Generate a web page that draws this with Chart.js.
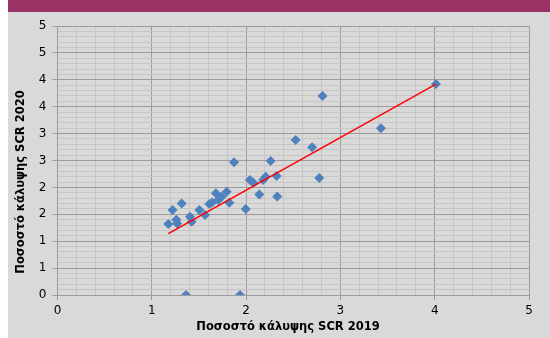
<!DOCTYPE html>
<html>
<head>
<meta charset="utf-8">
<script src="https://cdn.jsdelivr.net/npm/chart.js@4/dist/chart.umd.min.js"></script>
<style>
  html, body { margin: 0; padding: 0; background: #ffffff; }
  #c { display: block; }
</style>
</head>
<body>
<canvas id="c" width="550" height="338"></canvas>
<script>
// ---- Data ----
const scr2019 = [1.175, 1.22, 1.26, 1.27, 1.317, 1.405, 1.423, 1.504, 1.564, 1.61, 1.64, 1.68, 1.705, 1.741, 1.794, 1.822, 1.872, 1.996, 2.041, 2.077, 2.14, 2.18, 2.208, 2.26, 2.324, 2.33, 2.526, 2.70, 2.776, 2.81, 3.43, 4.014, 1.363, 1.935];
const scr2020 = [1.32, 1.58, 1.40, 1.33, 1.70, 1.455, 1.36, 1.58, 1.487, 1.69, 1.72, 1.89, 1.766, 1.827, 1.92, 1.716, 2.466, 1.60, 2.137, 2.087, 1.87, 2.137, 2.20, 2.49, 2.21, 1.83, 2.88, 2.745, 2.175, 3.70, 3.10, 3.92, 0, 0];
const trendX = [1.175, 4.014];
const trendY = [1.14, 3.92];
const xTitle = 'Ποσοστό κάλυψης SCR 2019';
const yTitle = 'Ποσοστό κάλυψης SCR 2020';

const points = scr2019.map((x, i) => ({ x: x, y: scr2020[i] }));
const trend = trendX.map((x, i) => ({ x: x, y: trendY[i] }));

const isMajor = (v, step) => Math.abs(v / step - Math.round(v / step)) < 1e-6;
const MAJOR = '#9c9c9c';
const MINOR = '#c6c6c6';

const bgPlugin = {
  id: 'bg',
  beforeDraw(chart) {
    const c = chart.ctx;
    c.save();
    c.fillStyle = '#ffffff';
    c.fillRect(0, 0, 550, 338);
    c.fillStyle = '#d9d9d9';
    c.fillRect(8, 12, 542, 326);
    c.fillStyle = '#993366';
    c.fillRect(8, 0, 542, 12);
    c.restore();
  },
  afterDraw(chart) {
    const c = chart.ctx;
    c.save();
    c.fillStyle = '#000000';
    c.font = 'bold 11.5px "DejaVu Sans"';
    c.textAlign = 'center';
    c.textBaseline = 'middle';
    c.fillText(xTitle, 288, 327);
    c.translate(21, 182);
    c.rotate(-Math.PI / 2);
    c.fillText(yTitle, 0, 0);
    c.restore();
  }
};

new Chart(document.getElementById('c'), {
  type: 'scatter',
  data: {
    datasets: [
      {
        type: 'line',
        data: trend,
        borderColor: '#ff0000',
        borderWidth: 1.5,
        pointRadius: 0,
        fill: false,
        showLine: true
      },
      {
        data: points,
        pointStyle: 'rectRot',
        radius: 5,
        backgroundColor: '#4f81bd',
        borderWidth: 0
      }
    ]
  },
  options: {
    responsive: false,
    animation: false,
    devicePixelRatio: 1,
    layout: { padding: { left: 0, right: 21, top: 26, bottom: 0 } },
    plugins: { legend: { display: false }, tooltip: { enabled: false } },
    scales: {
      x: {
        type: 'linear',
        min: 0, max: 5,
        afterFit(s) { s.height = 43; },
        ticks: {
          stepSize: 0.2,
          autoSkip: false,
          maxRotation: 0,
          padding: 4,
          color: '#000000',
          font: { family: '"DejaVu Sans"', size: 12 },
          callback: (v) => isMajor(v, 1) ? String(Math.round(v)) : ''
        },
        grid: {
          color: (ctx) => isMajor(ctx.tick.value, 1) ? MAJOR : MINOR,
          tickColor: (ctx) => isMajor(ctx.tick.value, 1) ? MAJOR : 'rgba(0,0,0,0)',
          tickLength: 5,
          lineWidth: 1
        },
        border: { color: MAJOR, width: 1 }
      },
      y: {
        type: 'linear',
        min: 0, max: 5,
        afterFit(s) { s.width = 57.5; },
        ticks: {
          stepSize: 0.1,
          autoSkip: false,
          padding: 6,
          color: '#000000',
          font: { family: '"DejaVu Sans"', size: 12 },
          callback: (v) => isMajor(v, 0.5) ? String(Math.round(v)) : ''
        },
        grid: {
          color: (ctx) => isMajor(ctx.tick.value, 0.5) ? MAJOR : MINOR,
          tickColor: (ctx) => isMajor(ctx.tick.value, 0.5) ? MAJOR : 'rgba(0,0,0,0)',
          tickLength: 5,
          lineWidth: 1
        },
        border: { color: MAJOR, width: 1 }
      }
    }
  },
  plugins: [bgPlugin]
});
</script>
</body>
</html>
